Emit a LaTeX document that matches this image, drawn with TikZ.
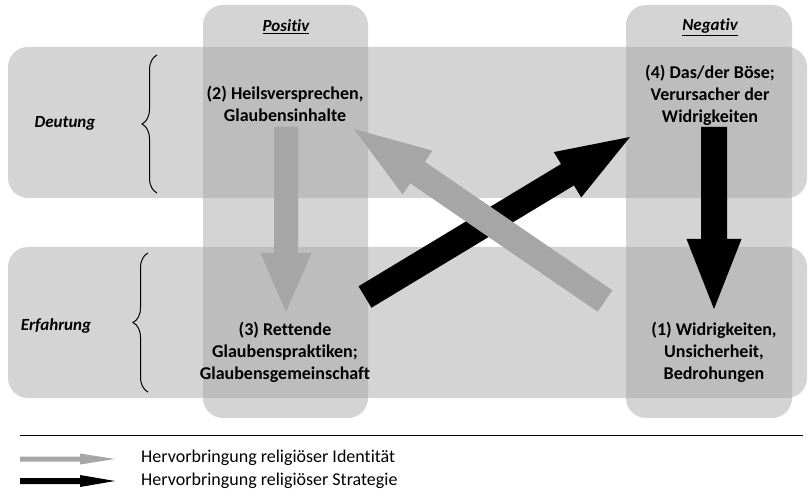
\documentclass[tikz,border=0pt]{standalone}
\usepackage{fontspec}
\setmainfont{Carlito}[Ligatures={NoCommon}]
\usetikzlibrary{calc,decorations.pathreplacing}

\definecolor{regiongray}{gray}{0.64}
\definecolor{identgray}{HTML}{A6A6A6}
\definecolor{stratblack}{HTML}{000000}

% Block arrow as a filled polygon:
% #1 colour, #2 tail coordinate, #3 tip coordinate,
% #4 half shaft width, #5 half head width, #6 head length
\newcommand\blockarrow[6]{%
  \coordinate (ba-neck) at ($(#3)!#6!(#2)$);
  \fill[#1] ($(#2)!#4!90:(#3)$) -- ($(ba-neck)!#4!90:(#3)$) --
    ($(ba-neck)!#5!90:(#3)$) -- (#3) -- ($(ba-neck)!#5!-90:(#3)$) --
    ($(ba-neck)!#4!-90:(#3)$) -- ($(#2)!#4!-90:(#3)$) -- cycle;
}

\begin{document}
\begin{tikzpicture}[x=1pt,y=-1pt,
  region/.style={fill=regiongray, fill opacity=0.47, rounded corners=20pt},
  boxtext/.style={font=\fontsize{18}{22}\selectfont\bfseries, align=center, text=black, inner sep=0pt},
  rowlabel/.style={font=\fontsize{17}{20}\selectfont\bfseries\itshape, inner sep=0pt},
  colhead/.style={font=\fontsize{17}{20}\selectfont\bfseries\itshape, inner sep=0pt},
  legendtext/.style={font=\fontsize{18}{22}\selectfont, anchor=west, inner sep=0pt},
  bracestyle/.style={decorate, decoration={brace, amplitude=15pt}, line width=1pt}]
  \useasboundingbox (0,0) rectangle (808,502);

  % rows: Deutung / Erfahrung
  \path[region] (8,47) rectangle (807,198);
  \path[region] (8,247) rectangle (807,398);
  % columns: Positiv / Negativ
  \path[region] (203,5) rectangle (368,418);
  \path[region] (626,5) rectangle (792,418);

  % column headings and row labels
  \node[colhead] (hpos) at (286,27) {\underline{Positiv}};
  \node[colhead] (hneg) at (710,27) {\underline{Negativ}};
  \node[rowlabel] (ldeut) at (65,123) {Deutung};
  \node[rowlabel] (lerf) at (56,326) {Erfahrung};

  % braces
  \coordinate (b1a) at (157,193);
  \coordinate (b1b) at (157,55);
  \coordinate (b2a) at (148,392);
  \coordinate (b2b) at (148,253);
  \draw[bracestyle] (b1a) -- (b1b);
  \draw[bracestyle] (b2a) -- (b2b);

  % the four stages
  \node[boxtext] (n2) at (285,104) {(2) Heilsversprechen,\\Glaubensinhalte};
  \node[boxtext] (n4) at (710,95) {(4) Das/der Böse;\\Verursacher der\\Widrigkeiten};
  \node[boxtext] (n3) at (285,352) {(3) Rettende\\Glaubenspraktiken;\\Glaubensgemeinschaft};
  \node[boxtext] (n1) at (714,352) {(1) Widrigkeiten,\\Unsicherheit,\\Bedrohungen};

  % arrow end points
  \coordinate (a23s) at (286,127);
  \coordinate (a23e) at (286,312);
  \coordinate (a41s) at (714,127);
  \coordinate (a41e) at (714,309);
  \coordinate (a34s) at (365,297);
  \coordinate (a34e) at (630,137);
  \coordinate (a12s) at (605,301);
  \coordinate (a12e) at (354,129);

  % strategy arrows (black)
  \blockarrow{stratblack}{a41s}{a41e}{13pt}{27.5pt}{70pt}
  \blockarrow{stratblack}{a34s}{a34e}{12.5pt}{26.5pt}{73pt}
  % identity arrows (grey)
  \blockarrow{identgray}{a23s}{a23e}{12pt}{25.5pt}{59pt}
  \blockarrow{identgray}{a12s}{a12e}{13pt}{26.5pt}{77pt}

  % legend
  \coordinate (rulea) at (20,435);
  \coordinate (ruleb) at (803,435);
  \draw[line width=0.8pt] (rulea) -- (ruleb);
  \coordinate (lg1a) at (20,459);
  \coordinate (lg1b) at (115,459);
  \coordinate (lg2a) at (20,481);
  \coordinate (lg2b) at (115,481);
  \blockarrow{identgray}{lg1a}{lg1b}{2.5pt}{5.5pt}{35pt}
  \blockarrow{stratblack}{lg2a}{lg2b}{3pt}{6pt}{35pt}
  \node[legendtext] (t1) at (141,458) {Hervorbringung religiöser Identität};
  \node[legendtext] (t2) at (141,481) {Hervorbringung religiöser Strategie};
\end{tikzpicture}
\end{document}
